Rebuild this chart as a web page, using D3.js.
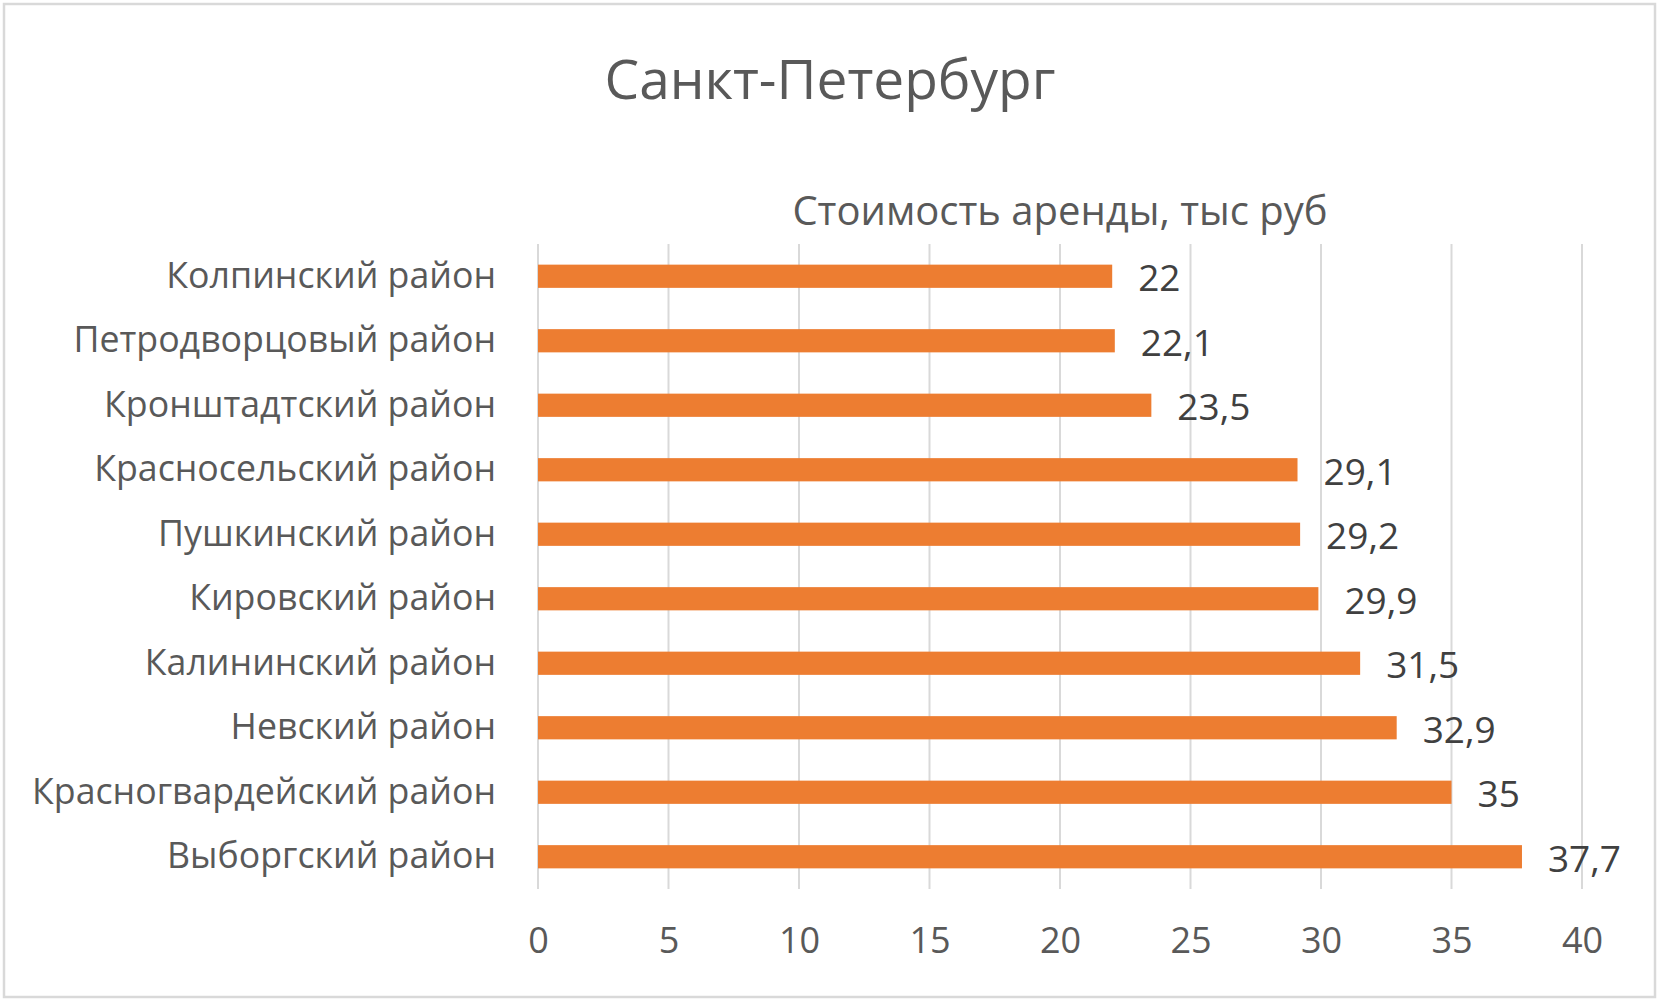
<!DOCTYPE html>
<html>
<head>
<meta charset="utf-8">
<script src="https://cdn.jsdelivr.net/npm/d3@7"></script>
<style>
  html, body { margin: 0; padding: 0; background: #fff; }
  svg { display: block; }
  text { font-family: "Open Sans", "Noto Sans", sans-serif; }
</style>
</head>
<body>
<svg id="chart" width="1663" height="1003"></svg>
<script>
const categories = [
  "Колпинский район",
  "Петродворцовый район",
  "Кронштадтский район",
  "Красносельский район",
  "Пушкинский район",
  "Кировский район",
  "Калининский район",
  "Невский район",
  "Красногвардейский район",
  "Выборгский район"
];
const values = [22, 22.1, 23.5, 29.1, 29.2, 29.9, 31.5, 32.9, 35, 37.7];
const tickValues = [0, 5, 10, 15, 20, 25, 30, 35, 40];
const chartTitle = "Санкт-Петербург";
const axisTitle = "Стоимость аренды, тыс руб";

const plot = { left: 538, right: 1582, top: 244, bottom: 889 };

const svg = d3.select("#chart");

svg.append("rect")
  .attr("x", 4).attr("y", 4)
  .attr("width", 1651).attr("height", 993)
  .attr("fill", "#fff")
  .attr("stroke", "#d9d9d9")
  .attr("stroke-width", 2.5);

const x = d3.scaleLinear().domain([0, 40]).range([plot.left, plot.right]);
const y = d3.scaleBand().domain(categories).range([plot.top, plot.bottom]).paddingInner(0.64).paddingOuter(0.32);

// gridlines
svg.append("g")
  .selectAll("line")
  .data(tickValues)
  .join("line")
  .attr("x1", d => x(d)).attr("x2", d => x(d))
  .attr("y1", plot.top).attr("y2", plot.bottom)
  .attr("stroke", "#d9d9d9")
  .attr("stroke-width", 2);

// bars
svg.append("g")
  .selectAll("rect")
  .data(values)
  .join("rect")
  .attr("x", x(0))
  .attr("y", (d, i) => y(categories[i]))
  .attr("width", d => x(d) - x(0))
  .attr("height", y.bandwidth())
  .attr("fill", "#ED7D31");

// value labels
svg.append("g")
  .selectAll("text")
  .data(values)
  .join("text")
  .attr("x", d => x(d) + 26)
  .attr("y", (d, i) => y(categories[i]) + y.bandwidth() / 2 + 2)
  .attr("dy", "0.35em")
  .attr("font-size", 37)
  .attr("fill", "#404040")
  .text(d => String(d).replace(".", ","));

// y axis (category labels)
const yAxis = d3.axisLeft(y).tickSize(0).tickPadding(0);
const gy = svg.append("g")
  .attr("transform", `translate(${plot.left - 42},0)`)
  .call(yAxis);
gy.select(".domain").remove();
gy.selectAll("text")
  .attr("font-size", 35.7)
  .attr("fill", "#595959")
  .attr("font-family", "\"Open Sans\", sans-serif");

// x axis
const xAxis = d3.axisBottom(x).tickValues(tickValues).tickSize(0).tickPadding(0).tickFormat(d3.format("d"));
const gx = svg.append("g")
  .attr("transform", `translate(0,${plot.bottom + 38})`)
  .call(xAxis);
gx.select(".domain").remove();
gx.selectAll("text")
  .attr("font-size", 36)
  .attr("fill", "#595959")
  .attr("font-family", "\"Open Sans\", sans-serif");

// titles
svg.append("text")
  .attr("x", 830).attr("y", 80)
  .attr("dy", "0.35em")
  .attr("text-anchor", "middle")
  .attr("font-size", 55)
  .attr("fill", "#595959")
  .text(chartTitle);

svg.append("text")
  .attr("x", (plot.left + plot.right) / 2).attr("y", 211)
  .attr("dy", "0.35em")
  .attr("text-anchor", "middle")
  .attr("font-size", 40)
  .attr("fill", "#595959")
  .text(axisTitle);
</script>
</body>
</html>
